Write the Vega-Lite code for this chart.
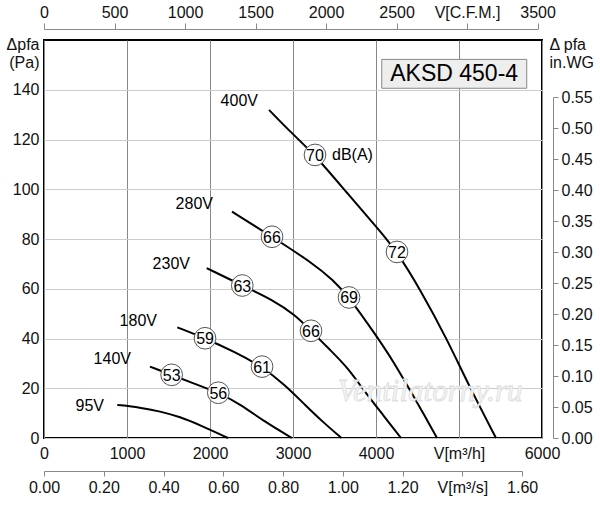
{
  "$schema": "https://vega.github.io/schema/vega-lite/v6.json",
  "autosize": "none",
  "width": 498,
  "height": 398,
  "padding": {"left": 44, "top": 40, "right": 58, "bottom": 67},
  "background": "white",
  "config": {
    "view": {"stroke": "black", "strokeWidth": 2},
    "font": "Liberation Sans",
    "axis": {"labelFont": "Liberation Sans", "titleFont": "Liberation Sans", "labelColor": "#111", "titleColor": "#111", "labelFontSize": 16, "titleFontSize": 16, "titleFontWeight": "normal"}
  },
  "datasets": {
    "curves": [
      {"v": "400V", "q": 2711, "p": 131.9}, {"v": "400V", "q": 2988, "p": 122.4}, {"v": "400V", "q": 3265, "p": 113.8},
      {"v": "400V", "q": 3651, "p": 98.5}, {"v": "400V", "q": 4048, "p": 83.2}, {"v": "400V", "q": 4253, "p": 74.8},
      {"v": "400V", "q": 4530, "p": 59.9}, {"v": "400V", "q": 4855, "p": 39.8}, {"v": "400V", "q": 5133, "p": 20.1},
      {"v": "400V", "q": 5446, "p": 0},
      {"v": "280V", "q": 2265, "p": 91.0}, {"v": "280V", "q": 2747, "p": 80.9}, {"v": "280V", "q": 3241, "p": 70.2},
      {"v": "280V", "q": 3482, "p": 63.5}, {"v": "280V", "q": 3675, "p": 56.7}, {"v": "280V", "q": 4012, "p": 40.7},
      {"v": "280V", "q": 4205, "p": 31.0}, {"v": "280V", "q": 4386, "p": 20.6}, {"v": "280V", "q": 4554, "p": 10.9},
      {"v": "280V", "q": 4735, "p": 0},
      {"v": "230V", "q": 1960, "p": 68.3}, {"v": "230V", "q": 2389, "p": 61.3}, {"v": "230V", "q": 2759, "p": 55.5},
      {"v": "230V", "q": 3024, "p": 49.5}, {"v": "230V", "q": 3217, "p": 43.1}, {"v": "230V", "q": 3446, "p": 35.4},
      {"v": "230V", "q": 3651, "p": 28.6}, {"v": "230V", "q": 3867, "p": 18.5}, {"v": "230V", "q": 4084, "p": 9.3},
      {"v": "230V", "q": 4301, "p": 0},
      {"v": "180V", "q": 1606, "p": 44.5}, {"v": "180V", "q": 1940, "p": 40.1}, {"v": "180V", "q": 2301, "p": 34.6},
      {"v": "180V", "q": 2627, "p": 28.7}, {"v": "180V", "q": 2904, "p": 21.3}, {"v": "180V", "q": 3145, "p": 13.3},
      {"v": "180V", "q": 3361, "p": 6.4}, {"v": "180V", "q": 3584, "p": 0},
      {"v": "140V", "q": 1277, "p": 28.7}, {"v": "140V", "q": 1538, "p": 25.4}, {"v": "140V", "q": 1819, "p": 21.7},
      {"v": "140V", "q": 2100, "p": 18.2}, {"v": "140V", "q": 2361, "p": 13.7}, {"v": "140V", "q": 2663, "p": 6.4},
      {"v": "140V", "q": 2988, "p": 0},
      {"v": "95V", "q": 883, "p": 13.3}, {"v": "95V", "q": 1157, "p": 12.3}, {"v": "95V", "q": 1398, "p": 10.7},
      {"v": "95V", "q": 1639, "p": 8.5}, {"v": "95V", "q": 1880, "p": 5.2}, {"v": "95V", "q": 2217, "p": 0}
    ],
    "noise": [
      {"q": 3265, "p": 113.8, "db": "70"}, {"q": 4253, "p": 74.8, "db": "72"},
      {"q": 2747, "p": 80.9, "db": "66"}, {"q": 3675, "p": 56.5, "db": "69"},
      {"q": 2389, "p": 61.3, "db": "63"}, {"q": 3217, "p": 43.1, "db": "66"},
      {"q": 1940, "p": 40.1, "db": "59"}, {"q": 2627, "p": 28.7, "db": "61"},
      {"q": 1538, "p": 25.4, "db": "53"}, {"q": 2100, "p": 18.2, "db": "56"}
    ],
    "volts": [
      {"q": 2578, "p": 135.6, "label": "400V"}, {"q": 2036, "p": 94.2, "label": "280V"},
      {"q": 1759, "p": 70, "label": "230V"}, {"q": 1361, "p": 47.1, "label": "180V"},
      {"q": 1048, "p": 31.9, "label": "140V"}, {"q": 723, "p": 12.9, "label": "95V"}
    ],
    "box": [{"q1": 4069, "q2": 5816, "p1": 140.6, "p2": 152.2, "qm": 4942, "pm": 146.4, "name": "AKSD 450-4"}],
    "cfm": [{"cfm": 0, "inwg": 0}, {"cfm": 3500, "inwg": 0.55}],
    "ms": [{"ms": 0, "p": 0}, {"ms": 1.6, "p": 0}]
  },
  "layer": [
    {
      "layer": [
        {
          "data": {"name": "curves"},
          "mark": {"type": "line", "color": "black", "strokeWidth": 2, "interpolate": "basis"},
          "encoding": {
            "x": {"field": "q", "type": "quantitative", "title": null, "scale": {"domain": [0, 6000], "nice": false},
              "axis": {"values": [0, 1000, 2000, 3000, 4000, 5000, 6000], "labelExpr": "datum.value == 5000 ? 'V[m³/h]' : datum.label", "format": "d",
                "domain": false, "ticks": false, "labelPadding": 7, "grid": true, "gridColor": "#888", "gridWidth": 1, "labelFlush": false}},
            "y": {"field": "p", "type": "quantitative", "scale": {"domain": [0, 160], "nice": false},
              "axis": {"values": [0, 20, 40, 60, 80, 100, 120, 140], "domain": false, "ticks": false, "labelPadding": 5, "grid": true, "gridColor": "#ccc", "gridWidth": 1,
                "title": ["Δpfa", "(Pa)"], "titleAngle": 0, "titleAlign": "right", "titleBaseline": "top", "titleX": -5, "titleY": -4, "titleLineHeight": 18}},
            "detail": {"field": "v"}
          }
        },
        {
          "data": {"name": "box"},
          "mark": {"type": "rect", "fill": "#eeeeee", "stroke": "#888", "strokeWidth": 1},
          "encoding": {
            "x": {"field": "q1", "type": "quantitative"}, "x2": {"field": "q2"},
            "y": {"field": "p1", "type": "quantitative"}, "y2": {"field": "p2"}
          }
        },
        {
          "data": {"name": "box"},
          "mark": {"type": "text", "fontSize": 23, "color": "black", "align": "center", "baseline": "middle"},
          "encoding": {
            "x": {"field": "qm", "type": "quantitative"},
            "y": {"field": "pm", "type": "quantitative"},
            "text": {"field": "name"}
          }
        },
        {
          "data": {"values": [{"q": 4651, "p": 18.5, "t": "Ventilatorny.ru"}]},
          "mark": {"type": "text", "font": "Liberation Serif", "fontStyle": "italic", "fontSize": 31, "fill": "#f5f5f5", "stroke": "#dddddd", "strokeWidth": 0.8, "align": "center", "baseline": "middle"},
          "encoding": {
            "x": {"field": "q", "type": "quantitative"},
            "y": {"field": "p", "type": "quantitative"},
            "text": {"field": "t"}
          }
        },
        {
          "data": {"name": "noise"},
          "mark": {"type": "point", "shape": "circle", "filled": true, "fill": "white", "stroke": "#555", "strokeWidth": 1, "size": 470, "opacity": 1},
          "encoding": {
            "x": {"field": "q", "type": "quantitative"},
            "y": {"field": "p", "type": "quantitative"}
          }
        },
        {
          "data": {"name": "noise"},
          "mark": {"type": "text", "fontSize": 16, "color": "black", "align": "center", "baseline": "middle", "dy": 1},
          "encoding": {
            "x": {"field": "q", "type": "quantitative"},
            "y": {"field": "p", "type": "quantitative"},
            "text": {"field": "db"}
          }
        },
        {
          "data": {"name": "volts"},
          "mark": {"type": "text", "fontSize": 16, "color": "black", "align": "right", "baseline": "middle"},
          "encoding": {
            "x": {"field": "q", "type": "quantitative"},
            "y": {"field": "p", "type": "quantitative"},
            "text": {"field": "label"}
          }
        },
        {
          "data": {"values": [{"q": 3470, "p": 113.9, "t": "dB(A)"}]},
          "mark": {"type": "text", "fontSize": 16, "color": "black", "align": "left", "baseline": "middle"},
          "encoding": {
            "x": {"field": "q", "type": "quantitative"},
            "y": {"field": "p", "type": "quantitative"},
            "text": {"field": "t"}
          }
        }
      ]
    },
    {
      "data": {"name": "cfm"},
      "mark": {"type": "point", "opacity": 0},
      "encoding": {
        "x": {"field": "cfm", "type": "quantitative", "title": null, "scale": {"domain": [0, 3500], "range": [0, 493.6], "nice": false},
          "axis": {"orient": "top", "offset": 11, "values": [0, 500, 1000, 1500, 2000, 2500, 3000, 3500], "format": "d",
            "labelExpr": "datum.value == 3000 ? 'V[C.F.M.]' : datum.label", "domainColor": "#888", "tickColor": "#888", "tickSize": 6, "labelPadding": 3, "grid": false, "labelFlush": false}},
        "y": {"field": "inwg", "type": "quantitative", "scale": {"domain": [0, 0.55], "range": [398, 57.2], "nice": false},
          "axis": {"orient": "right", "offset": 11, "values": [0, 0.05, 0.1, 0.15, 0.2, 0.25, 0.3, 0.35, 0.4, 0.45, 0.5, 0.55], "format": ".2f",
            "domainColor": "#888", "tickColor": "#888", "tickSize": 5, "labelPadding": 3, "grid": false, "labelFlush": false,
            "title": ["Δ pfa", "in.WG"], "titleAngle": 0, "titleAlign": "left", "titleBaseline": "top", "titleX": -4, "titleY": -4, "titleLineHeight": 18}}
      }
    },
    {
      "data": {"name": "ms"},
      "mark": {"type": "point", "opacity": 0},
      "encoding": {
        "x": {"field": "ms", "type": "quantitative", "title": null, "scale": {"domain": [0, 1.6], "range": [0, 478.1], "nice": false},
          "axis": {"orient": "bottom", "offset": 33, "values": [0, 0.2, 0.4, 0.6, 0.8, 1.0, 1.2, 1.4, 1.6], "format": ".2f",
            "labelExpr": "datum.value == 1.4 ? 'V[m³/s]' : datum.label", "domainColor": "#888", "tickColor": "#888", "tickSize": 5, "labelPadding": 3, "grid": false, "labelFlush": false}},
        "y": {"field": "p", "type": "quantitative", "scale": {"domain": [0, 160]}, "axis": null}
      }
    }
  ],
  "resolve": {"scale": {"x": "independent", "y": "independent"}, "axis": {"x": "independent", "y": "independent"}}
}
